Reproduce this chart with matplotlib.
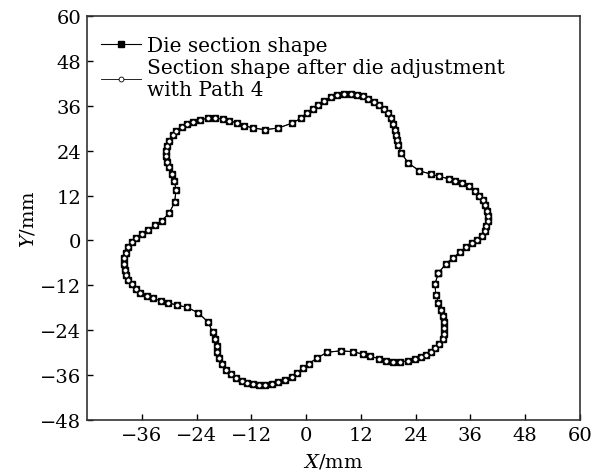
"""
Die section shape vs. section shape after die adjustment (Path 4).
"""

import matplotlib

matplotlib.use("Agg")
import matplotlib.pyplot as plt

# contour points, counter-clockwise from the right lobe
die_x = [
    29.0, 30.6, 32.2, 33.7, 35.0, 36.25, 37.5, 38.45, 39.1, 39.5, 39.8, 39.8,
    39.55, 39.2, 38.7, 37.9, 36.9, 35.6, 34.2, 32.7, 31.2, 29.2, 27.3, 24.8,
    22.4, 20.8, 20.2, 20.0, 19.7, 19.5, 19.1, 18.5, 17.9, 17.1, 16.0, 14.9,
    13.6, 12.4, 11.1, 9.8, 8.3, 6.8, 5.4, 4.0, 2.7, 1.45, 0.13, -1.2, -3.2,
    -6.1, -9.0, -11.6, -13.6, -15.2, -16.8, -18.3, -20.0, -21.6, -23.2, -24.7,
    -26.2, -27.3, -28.4, -29.2, -30.0, -30.4, -30.7, -30.7, -30.4, -30.0, -29.4,
    -28.9, -28.5, -28.8, -30.0, -31.6, -33.1, -34.6, -36.0, -37.3, -38.2, -38.95,
    -39.5, -39.8, -39.9, -39.7, -39.5, -38.95, -38.2, -37.3, -36.3, -34.9, -33.5,
    -31.9, -30.2, -28.2, -26.0, -23.6, -21.4, -20.5, -20.0, -19.6, -19.5, -19.0,
    -18.5, -17.55, -16.5, -15.4, -14.1, -12.9, -11.6, -10.3, -9.0, -7.5, -6.1,
    -4.6, -3.2, -1.9, -0.6, 0.7, 2.3, 4.6, 7.6, 10.3, 12.5, 14.1, 16.0, 17.5,
    19.1, 20.6, 22.4, 23.85, 25.1, 26.3, 27.35, 28.2, 29.2, 29.9, 30.2, 30.3,
    30.2, 29.9, 29.5, 29.0, 28.45, 28.2, 29.0,
]
die_y = [
    -8.7, -6.3, -4.6, -3.2, -1.85, -0.8, 0.1, 1.3, 2.6, 3.9, 5.2, 6.6,
    8.0, 9.4, 10.7, 12.0, 13.3, 14.5, 15.35, 15.9, 16.5, 17.1, 17.75, 18.6,
    20.7, 23.4, 25.5, 26.9, 28.2, 29.6, 31.1, 32.65, 34.0, 35.1, 36.2, 37.1,
    37.8, 38.5, 38.9, 39.1, 39.1, 38.9, 38.3, 37.4, 36.2, 35.1, 34.1, 32.6, 31.3,
    30.05, 29.6, 30.05, 30.7, 31.4, 32.0, 32.5, 32.6, 32.6, 32.3, 31.7,
    31.1, 30.2, 29.3, 28.2, 26.7, 25.3, 24.0, 22.5, 21.0, 19.5, 17.8,
    16.0, 13.6, 10.2, 7.3, 5.3, 4.1, 2.8, 1.7, 0.56, -0.5, -1.85,
    -3.4, -4.8, -6.3, -7.8, -9.25, -10.5, -11.7, -13.0, -14.1, -14.95, -15.5,
    -16.1, -16.7, -17.3, -17.9, -19.4, -21.9, -24.6, -26.4, -28.2, -29.9, -31.5,
    -33.0, -34.6, -35.7, -36.8, -37.5, -38.1, -38.5, -38.7, -38.7, -38.5, -37.9,
    -37.3, -36.6, -35.5, -34.2, -32.9, -31.5, -29.9, -29.5, -29.75, -30.4, -31.0, -31.6, -32.2,
    -32.4, -32.4, -32.25, -31.7, -31.1, -30.5, -29.7, -28.8, -27.7, -26.4, -25.0, -23.5,
    -21.9, -20.1, -18.5, -16.6, -14.6, -11.7, -8.7,
]
# the adjusted section lies on top of the die section at this scale
adj_x = list(die_x)
adj_y = list(die_y)

x_ticks = [-36, -24, -12, 0, 12, 24, 36, 48, 60]
y_ticks = [-48, -36, -24, -12, 0, 12, 24, 36, 48, 60]

# the source uses a wide Times-like face; DejaVu Serif matches its footprint
plt.rcParams["font.family"] = ["DejaVu Serif"]
plt.rcParams["mathtext.fontset"] = "dejavuserif"

fig = plt.figure(figsize=(6.01, 4.77), dpi=100)
ax = fig.add_axes([0.1448, 0.1174, 0.8202, 0.847])

ax.plot(die_x, die_y, color="black", lw=0.8, marker="s", ms=4.2,
        mfc="black", mec="black", label="Die section shape")
ax.plot(adj_x, adj_y, color="black", lw=0.6, marker="o", ms=2.4,
        mfc="white", mec="white", mew=0.3,
        label="Section shape after die adjustment\nwith Path 4")

ax.set_xlim(-48, 60)
ax.set_ylim(-48, 60)
ax.set_xticks(x_ticks)
ax.set_yticks(y_ticks)
ax.tick_params(direction="in", length=4, width=1.0, labelsize=14,
               colors="black", pad=4)
for side in ["top", "right", "bottom", "left"]:
    ax.spines[side].set_linewidth(1.2)
    ax.spines[side].set_color("#333333")

ax.set_xlabel(r"$\mathit{X}$/mm", fontsize=14, labelpad=6)
ax.set_ylabel(r"$\mathit{Y}$/mm", fontsize=14, labelpad=2)

leg = ax.legend(loc="upper left", frameon=False, fontsize=14.5,
                handlelength=2.0, handletextpad=0.3, labelspacing=0.12,
                borderaxespad=0.3, bbox_to_anchor=(0.0, 0.985))
for h in leg.legend_handles:
    h.set_markeredgecolor("black")
leg.legend_handles[1].set_markersize(3.5)
leg.legend_handles[1].set_markeredgewidth(0.6)

fig.savefig("out.png", dpi=100)
plt.close(fig)
